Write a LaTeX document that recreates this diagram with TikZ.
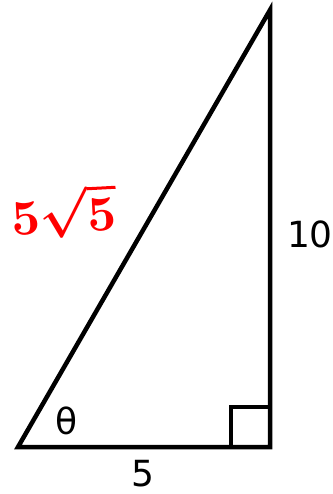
\documentclass[tikz,border=0pt]{standalone}
\usepackage{fontspec}
\setmainfont{DejaVu Sans}
\begin{document}
\begin{tikzpicture}[x=1pt,y=-1pt,
  edge/.style={line width=4.5pt,line join=miter},
  lbl/.style={font=\fontsize{36}{36}\selectfont,inner sep=0pt,anchor=base},
  hyplbl/.style={text=red,inner sep=0pt,scale=5,rotate=3,font=\boldmath}]
\useasboundingbox (0,0) rectangle (332,494);
\coordinate (A) at (18,447);
\coordinate (B) at (270,447);
\coordinate (C) at (270,10);
\coordinate (S1) at (231,447);
\coordinate (S2) at (231,407);
\coordinate (S3) at (270,407);
\draw[edge] (A) -- (B) -- (C) -- cycle;
\draw[edge,line width=4pt] (S1) -- (S2) -- (S3);
\node[lbl] (theta) at (67,434) {θ};
\node[lbl] (base) at (143,486) {5};
\node[lbl] (height) at (310,247) {10};
\node[hyplbl] (hyp) at (64,212) {$5\sqrt{5}$};
\end{tikzpicture}
\end{document}
